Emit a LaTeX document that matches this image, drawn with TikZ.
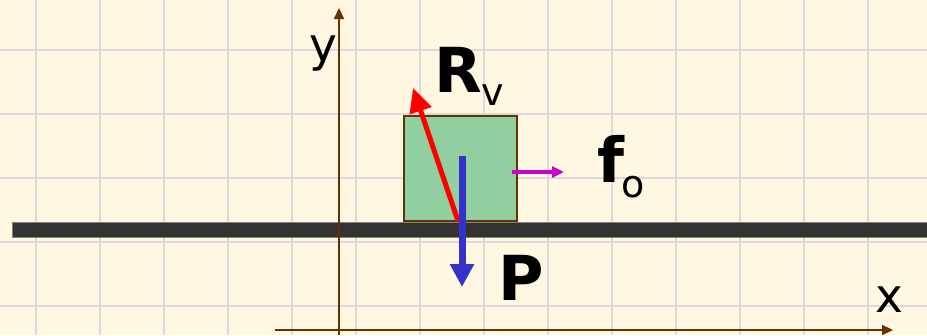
\documentclass[tikz,border=0pt]{standalone}
\usepackage{fontspec}
\setmainfont{DejaVu Sans}
\usetikzlibrary{arrows.meta}

\definecolor{paper}{RGB}{255,247,225}
\definecolor{gridgray}{RGB}{218,218,218}
\definecolor{axisbrown}{RGB}{102,51,0}
\definecolor{blockgreen}{RGB}{145,207,161}
\definecolor{groundgray}{RGB}{51,51,51}
\definecolor{forceblue}{RGB}{51,51,204}
\definecolor{forcemag}{RGB}{204,0,204}

\tikzset{
  gridline/.style={gridgray, line width=2.2pt},
  axis/.style={axisbrown, line width=2.2pt, -{Triangle[length=11pt,width=10pt]}},
  force/.style={line width=#1},
  lbl/.style={inner sep=0pt, anchor=base west},
  bigbold/.style={lbl, font=\fontsize{62}{62}\selectfont\bfseries},
  subtxt/.style={lbl, font=\fontsize{38}{38}\selectfont},
  axtxt/.style={lbl, font=\fontsize{47}{47}\selectfont}
}

\begin{document}
\begin{tikzpicture}[x=1pt, y=-1pt]
  % paper
  \fill[paper] (0,0) rectangle (927,335);
  \useasboundingbox (0,0) rectangle (927,335);
  % grid
  \foreach \x in {36,100,...,932}
    \draw[gridline] (\x,0) -- (\x,335);
  \foreach \y in {50,114,...,306}
    \draw[gridline] (0,\y) -- (927,\y);
  % block
  \node[draw=axisbrown, fill=blockgreen, line width=2pt, minimum width=113pt,
        minimum height=105pt, anchor=south west, inner sep=0pt] (block) at (403,222) {};
  % ground
  \fill[groundgray, draw=gray, line width=0.6pt] (12,222) rectangle (930,237);
  % axes
  \coordinate (ybot) at (339,335);
  \coordinate (ytop) at (339,8);
  \coordinate (xleft) at (275,330);
  \coordinate (xright) at (893,330);
  \draw[axis] (ybot) -- (ytop);
  \draw[axis] (xleft) -- (xright);
  \node[axtxt] (ylab) at (309,61) {y};
  \node[axtxt] (xlab) at (875,312) {x};
  % forces
  \coordinate (rfoot) at (458,221);
  \coordinate (rtip) at (413,88);
  \coordinate (pfoot) at (462,156);
  \coordinate (ptip) at (462,287);
  \coordinate (ffoot) at (512,172);
  \coordinate (ftip) at (564,172);
  \draw[force=5pt, red, -{Triangle[length=24pt,width=22pt]}] (rfoot) -- (rtip);
  \draw[force=7pt, forceblue, -{Triangle[length=23pt,width=23pt]}] (pfoot) -- (ptip);
  \draw[force=4pt, forcemag, -{Triangle[length=12pt,width=11pt]}] (ffoot) -- (ftip);
  % labels
  \node[bigbold] (rlab) at (434,92) {R};
  \node[subtxt] (rsub) at (481,105) {v};
  \node[bigbold] (flab) at (597,182) {f};
  \node[subtxt] (fsub) at (621,197) {o};
  \node[bigbold] (plab) at (498,300) {P};
\end{tikzpicture}
\end{document}
